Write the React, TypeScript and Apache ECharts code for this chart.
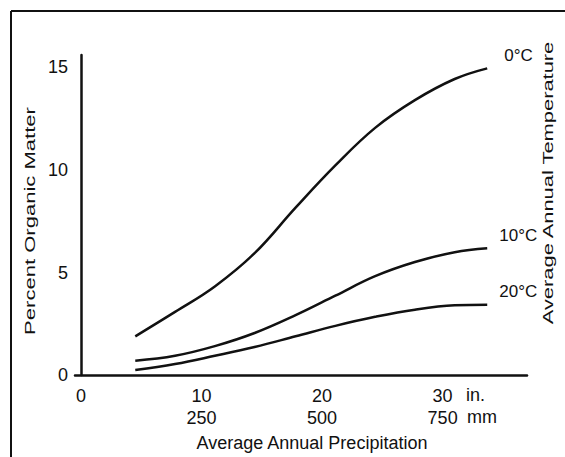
import React, { useEffect, useRef } from 'react';
import * as echarts from 'echarts';

// Average annual precipitation (inches) at which the curves were read
const precipIn = [4.5, 7.8, 11.1, 14.4, 17.8, 21.1, 24.4, 27.7, 31.0, 33.7];
// Percent organic matter for each average annual temperature
const om0C = [1.89, 3.08, 4.32, 5.94, 8.16, 10.22, 12.05, 13.4, 14.43, 14.95];
const om10C = [0.7, 0.94, 1.41, 2.05, 2.92, 3.87, 4.82, 5.51, 5.99, 6.18];
const om20C = [0.25, 0.54, 0.94, 1.37, 1.89, 2.4, 2.84, 3.19, 3.4, 3.43];
const seriesNames = ['0°C', '10°C', '20°C'];
const xTicksIn = [0, 10, 20, 30];
const xTicksMm = ['', '250', '500', '750'];
const yTicks = [0, 5, 10, 15];

const FONT = '"Liberation Sans", Arial, Helvetica, sans-serif';
const INK = '#111';

export default function App() {
  const ref = useRef<HTMLDivElement>(null);
  useEffect(() => {
    if (!ref.current) return;
    const chart = echarts.init(ref.current, null, { renderer: 'svg' });
    const mk = (vals: number[]) => precipIn.map((x, i) => [x, vals[i]]);
    const all = [om0C, om10C, om20C];
    const endOffsets = [[9, -13], [4, -13], [4, -13]];
    chart.setOption({
      animation: false,
      backgroundColor: '#fff',
      grid: { left: 75, right: 38, top: 55, bottom: 74, containLabel: false },
      xAxis: {
        type: 'value',
        min: -0.5,
        max: 37,
        splitNumber: 4,
        splitLine: { show: false },
        axisTick: { show: false },
        axisLine: { show: true, lineStyle: { color: INK, width: 2.5 } },
        axisLabel: {
          margin: 10,
          fontSize: 18,
          lineHeight: 22,
          color: INK,
          fontFamily: FONT,
          showMinLabel: false,
          showMaxLabel: false,
          formatter: (v: number) => {
            const i = xTicksIn.indexOf(v);
            if (i < 0) return '';
            return xTicksMm[i] ? v + '\n' + xTicksMm[i] : String(v);
          },
        },
        name: 'Average Annual Precipitation',
        nameLocation: 'middle',
        nameGap: 47,
        nameTextStyle: { fontSize: 18, color: INK, fontFamily: FONT, padding: [0, 0, 0, 22] },
      },
      yAxis: {
        type: 'value',
        min: 0,
        max: 15.6,
        interval: 5,
        splitLine: { show: false },
        axisTick: { show: false },
        axisLine: { show: true, lineStyle: { color: INK, width: 2.5 } },
        axisLabel: {
          margin: 7,
          fontSize: 18,
          color: INK,
          fontFamily: FONT,
          formatter: (v: number) => (yTicks.indexOf(v) >= 0 ? String(v) : ''),
        },
      },
      series: all.map((vals, i) => ({
        type: 'line',
        name: seriesNames[i],
        data: mk(vals),
        smooth: 0.4,
        showSymbol: false,
        lineStyle: { color: INK, width: 2.5 },
        endLabel: {
          show: true,
          formatter: seriesNames[i],
          offset: endOffsets[i],
          fontSize: 17,
          color: INK,
          fontFamily: FONT,
        },
      })),
      graphic: [
        { type: 'line', shape: { x1: 11, y1: 11, x2: 565, y2: 11 }, style: { stroke: INK, lineWidth: 2 } },
        { type: 'line', shape: { x1: 11, y1: 11, x2: 11, y2: 457 }, style: { stroke: INK, lineWidth: 2 } },
        {
          type: 'text',
          x: 30,
          y: 221,
          rotation: Math.PI / 2,
          scaleX: 1.47,
          style: {
            text: 'Percent Organic Matter',
            fontSize: 15,
            fontFamily: FONT,
            fill: INK,
            align: 'center',
            verticalAlign: 'middle',
          },
        },
        {
          type: 'text',
          x: 548,
          y: 183,
          rotation: Math.PI / 2,
          scaleX: 1.46,
          style: {
            text: 'Average Annual Temperature',
            fontSize: 15,
            fontFamily: FONT,
            fill: INK,
            align: 'center',
            verticalAlign: 'middle',
          },
        },
        {
          type: 'text',
          x: 466,
          y: 395,
          style: { text: 'in.', fontSize: 18, fontFamily: FONT, fill: INK, align: 'left', verticalAlign: 'middle' },
        },
        {
          type: 'text',
          x: 467,
          y: 417,
          style: { text: 'mm', fontSize: 18, fontFamily: FONT, fill: INK, align: 'left', verticalAlign: 'middle' },
        },
      ],
    });
    return () => chart.dispose();
  }, []);
  return (
    <div
      ref={ref}
      style={{ position: 'absolute', left: 0, top: 0, width: 565, height: 457, background: '#fff' }}
    />
  );
}
